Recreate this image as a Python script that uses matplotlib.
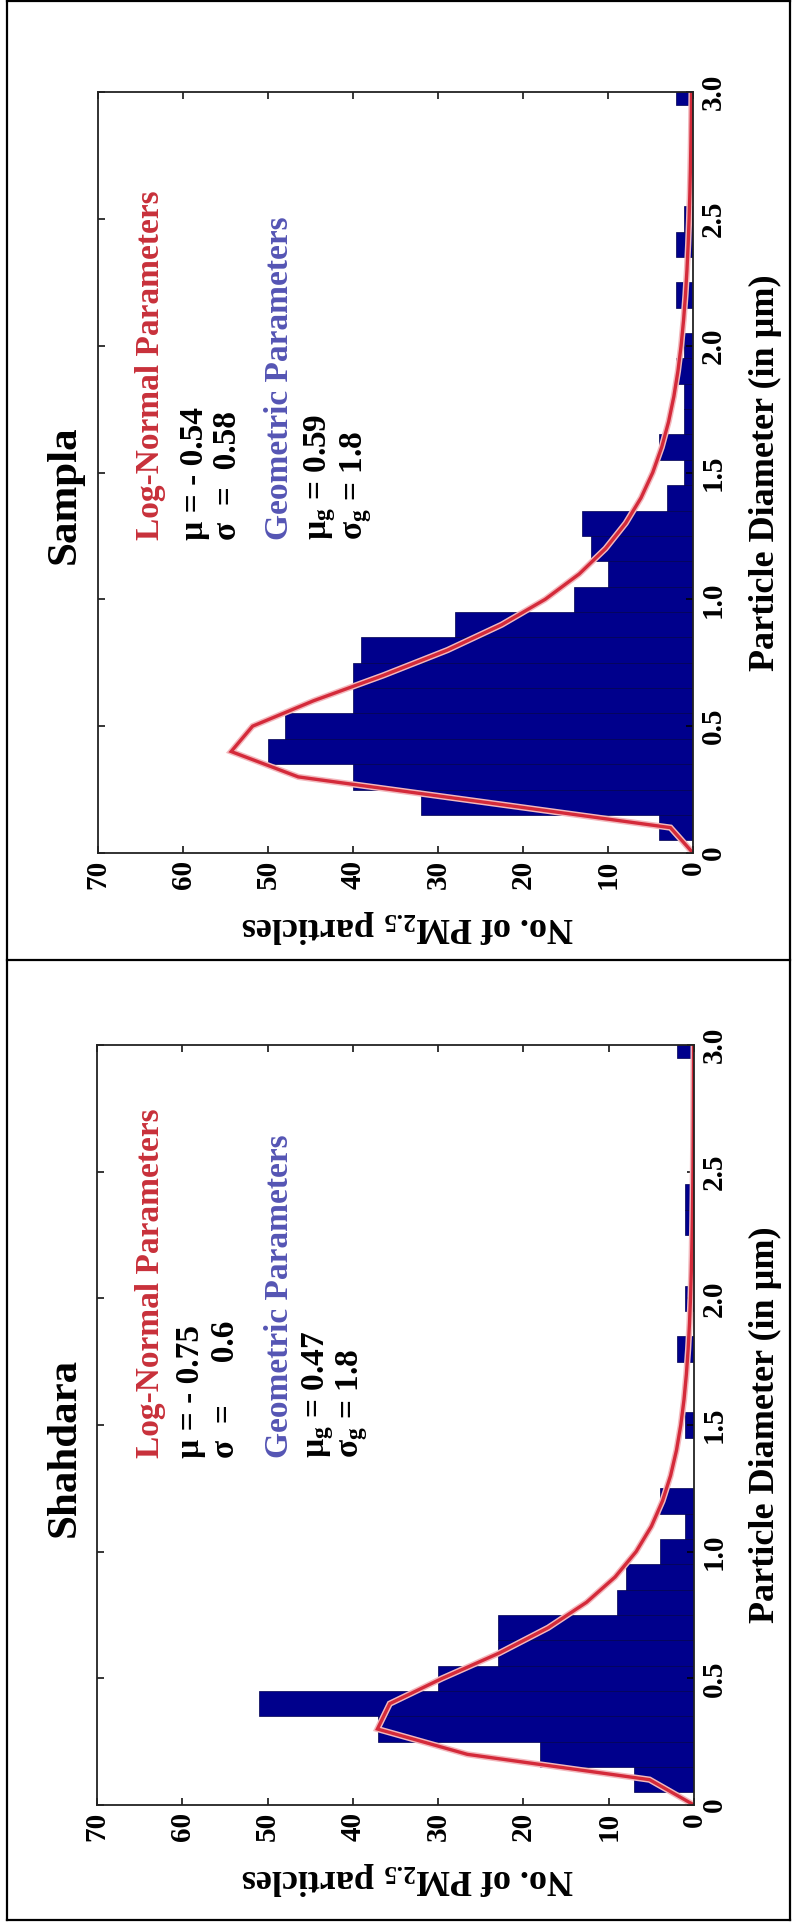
import numpy as np
import matplotlib.pyplot as plt
from matplotlib.lines import Line2D

plt.rcParams['font.family'] = ['Liberation Serif', 'DejaVu Serif']
plt.rcParams['font.weight'] = 'bold'
plt.rcParams['mathtext.fontset'] = 'custom'
plt.rcParams['mathtext.rm'] = 'Liberation Serif:bold'
plt.rcParams['mathtext.it'] = 'Liberation Serif:bold'
plt.rcParams['mathtext.bf'] = 'Liberation Serif:bold'
plt.rcParams['mathtext.default'] = 'rm'

# histogram bins (particle diameter, um), width 0.1
diam_bins = [0.1, 0.2, 0.3, 0.4, 0.5, 0.6, 0.7, 0.8, 0.9, 1.0,
             1.1, 1.2, 1.3, 1.4, 1.5, 1.6, 1.7, 1.8, 1.9, 2.0,
             2.1, 2.2, 2.3, 2.4, 2.5, 2.6, 2.7, 2.8, 2.9, 3.0]
bin_width = 0.1

sampla_counts = [4, 32, 40, 50, 48, 40, 40, 39, 28, 14,
                 10, 12, 13, 3, 1, 4, 1, 1, 2, 1,
                 0, 2, 0, 2, 1, 0, 0, 0, 0, 2]
shahdara_counts = [7, 18, 37, 51, 30, 23, 23, 9, 8, 4,
                   1, 4, 0, 0, 1, 0, 0, 2, 0, 1,
                   0, 0, 1, 1, 0, 0, 0, 0, 0, 2]

# fitted log-normal parameters
sampla_fit = (-0.54, 0.58)
shahdara_fit = (-0.75, 0.60)
sampla_geo = ('0.59', '1.8')
shahdara_geo = ('0.47', '1.8')

count_ticks = [0, 10, 20, 30, 40, 50, 60, 70]
diam_ticks = [0, 0.5, 1.0, 1.5, 2.0, 2.5, 3.0]
diam_ticklabels = ['0', '0.5', '1.0', '1.5', '2.0', '2.5', '3.0']

W, H = 795, 1928
fig = plt.figure(figsize=(W / 100, H / 100), dpi=100)

RED = '#c8303a'
BLUE = '#5555b4'
NAVY = '#00008c'


def fx(x):
    return x / W


def fy(y):
    return 1 - y / H


def lognorm_curve(counts, mu, sigma):
    xs = np.array([0.0] + diam_bins)
    pdf = np.zeros_like(xs)
    pos = xs > 0
    pdf[pos] = np.exp(-(np.log(xs[pos]) - mu) ** 2 / (2 * sigma ** 2)) / (xs[pos] * sigma * np.sqrt(2 * np.pi))
    return xs, sum(counts) * bin_width * pdf


def panel(rect, counts, fit, geo, title, text_start, line_x, mu_str, sig_str):
    left, top, right, bottom = rect
    ax = fig.add_axes([fx(left), fy(bottom), fx(right - left), (bottom - top) / H])
    # chart is drawn turned on its side: counts run right-to-left, diameter upward
    ax.barh(diam_bins, counts, height=bin_width, color=NAVY, edgecolor='#000050', linewidth=0.5)
    xs, ys = lognorm_curve(counts, *fit)
    ax.plot(ys, xs, color='#f3b8bd', lw=4.5, solid_joinstyle='miter')
    ax.plot(ys, xs, color='#d42a3a', lw=2.4, solid_joinstyle='miter')
    ax.set_xlim(70, 0)
    ax.set_ylim(0, 3)
    ax.set_xticks(count_ticks)
    ax.set_yticks(diam_ticks)
    ax.set_yticklabels(diam_ticklabels)
    ax.tick_params(which='both', direction='in', length=5, width=1.1,
                   top=True, bottom=True, left=True, right=True,
                   labelleft=False, labelright=True, labelsize=21, pad=5)
    for lab in ax.get_xticklabels():
        lab.set_rotation(90)
        lab.set_va('top')
        lab.set_ha('center')
    for lab in ax.get_yticklabels():
        lab.set_rotation(90)
        lab.set_va('center')
        lab.set_ha('left')
    for sp in ax.spines.values():
        sp.set_linewidth(1.3)
        sp.set_color('#222222')

    cy = (top + bottom) / 2
    fig.text(fx(65), fy(cy + 22), title, rotation=90, fontsize=31,
             ha='center', va='center')
    fig.text(fx(408), fy(bottom + 73), 'No. of PM$_{2.5}$ particles', rotation=180,
             fontsize=26, ha='center', va='center')
    fig.text(fx(765), fy(cy), 'Particle Diameter (in \u00b5m)', rotation=90,
             fontsize=26, ha='center', va='center')

    lines = [('Log-Normal Parameters', RED),
             (mu_str, 'black'),
             (sig_str, 'black'),
             ('Geometric Parameters', BLUE),
             ('\u00b5$_{g}$ = ' + geo[0], 'black'),
             ('\u03c3$_{g}$ = ' + geo[1], 'black')]
    for (txt, col), lx in zip(lines, line_x):
        fig.text(fx(lx), fy(text_start), txt, rotation=90, fontsize=24,
                 color=col, ha='center', va='bottom')
    return ax


panel((98, 92, 693, 853), sampla_counts, sampla_fit, sampla_geo, 'Sampla',
      540, [150, 194, 228, 279, 320, 356],
      '\u00b5 = - 0.54', '\u03c3  =  0.58')
panel((97, 1045, 694, 1805), shahdara_counts, shahdara_fit, shahdara_geo, 'Shahdara',
      1458, [150, 190, 225, 279, 318, 352],
      '\u00b5 = - 0.75', '\u03c3  =     0.6')

# outer frame and divider between the two panels
for (x1, y1, x2, y2) in [(7, 1, 790, 1), (7, 1920, 790, 1920), (7, 1, 7, 1920),
                         (790, 1, 790, 1920), (7, 960, 790, 960)]:
    fig.add_artist(Line2D([fx(x1), fx(x2)], [fy(y1), fy(y2)], color='black', lw=1.6))

fig.savefig('out.png', dpi=100)
